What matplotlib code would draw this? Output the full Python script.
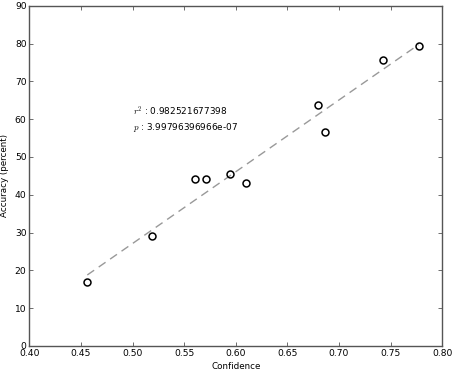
import numpy as np
import matplotlib
matplotlib.use("Agg")
import matplotlib.pyplot as plt

# binned confidence vs accuracy
confidence = [0.4562, 0.5191, 0.5605, 0.5714, 0.5940, 0.6102, 0.6799, 0.6864, 0.7429, 0.7771]
accuracy = [17.0, 29.15, 44.07, 44.07, 45.49, 43.01, 63.86, 56.70, 75.69, 79.40]
r_squared = "0.982521677398"
p_value = "3.99796396966e-07"

plt.rcParams['mathtext.fontset'] = 'cm'
plt.rcParams['xtick.direction'] = 'in'
plt.rcParams['ytick.direction'] = 'in'
plt.rcParams['xtick.top'] = True
plt.rcParams['ytick.right'] = True

fig = plt.figure(figsize=(4.54, 3.73), dpi=100)
ax = fig.add_axes([0.0645, 0.073, 0.9095, 0.911])

x = np.array(confidence)
y = np.array(accuracy)
slope, intercept = np.polyfit(x, y, 1)
xs = np.array([x.min(), x.max()])
ax.plot(xs, slope * xs + intercept, linestyle=(0, (6, 4)), color='#999999', linewidth=1)
ax.plot(x, y, 'o', markerfacecolor='none', markeredgecolor='black',
        markersize=5, markeredgewidth=1.1)

ax.text(0.5, 60.0, "$r^2$ : " + r_squared + "\n$p$ : " + p_value,
        fontsize=6.4, va='center', ha='left', linespacing=1.3)

ax.set_xlim(0.40, 0.80)
ax.set_ylim(0, 90)
ax.set_xticks(np.arange(0.40, 0.801, 0.05))
ax.set_xticklabels([f"{v:.2f}" for v in np.arange(0.40, 0.801, 0.05)])
ax.set_yticks(range(0, 91, 10))
ax.tick_params(labelsize=6.6, length=3, width=0.6, color='#555555', pad=2)
for s in ax.spines.values():
    s.set_linewidth(1.0)
    s.set_color('#555555')
ax.set_xlabel("Confidence", fontsize=6.3, labelpad=3)
ax.set_ylabel("Accuracy (percent)", fontsize=6.3, labelpad=4)

fig.savefig("out.png", dpi=100)
